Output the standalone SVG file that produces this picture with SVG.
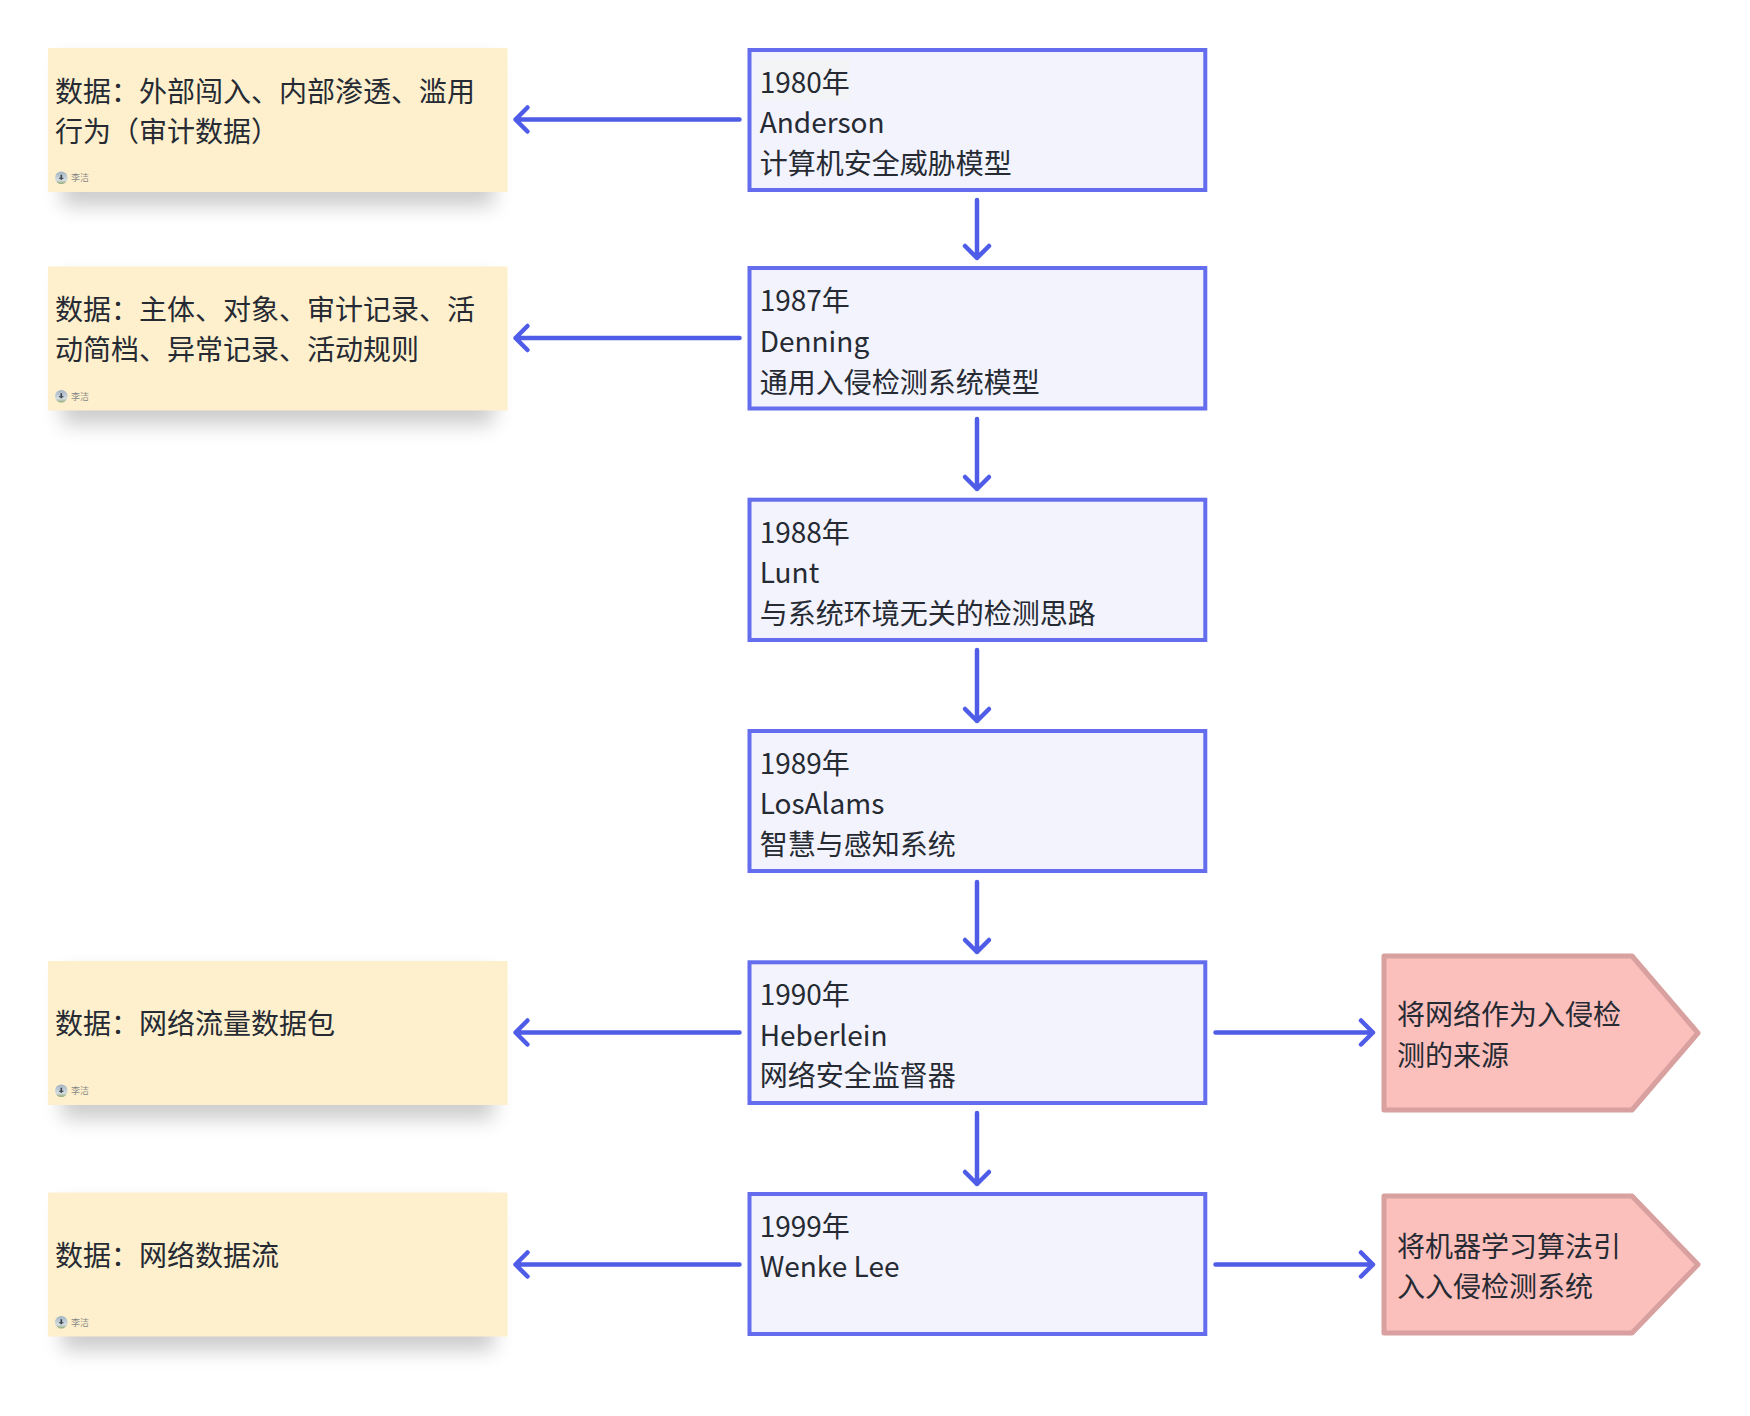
<svg xmlns="http://www.w3.org/2000/svg" width="1750" height="1416" viewBox="0 0 1750 1416">
<style>
text{font-family:"Noto Sans CJK SC","Noto Sans",sans-serif;font-size:28px;fill:#262a33}
.box{fill:#f2f3fc;stroke:#646ded;stroke-width:4}
.note{fill:#fef0cd}
.shade{fill:#000;opacity:.2;filter:url(#soft)}
.tag{fill:#fbbfbc;stroke:#d8a09e;stroke-width:5;stroke-linejoin:round}
.edge{fill:none;stroke:#4f5ce8;stroke-width:4.500;stroke-linecap:round;stroke-linejoin:round}
.who{font-size:9px;fill:#8a8a86}
</style>
<defs>
<filter id="soft" x="-15%" y="-50%" width="130%" height="200%"><feGaussianBlur stdDeviation="10"/></filter>
<linearGradient id="sky" x1="0" y1="0" x2="0" y2="1"><stop offset="0" stop-color="#9fb2c2"/><stop offset=".7" stop-color="#d5dde0"/><stop offset="1" stop-color="#8fa878"/></linearGradient>
<g id="avatar"><circle cx="61.300" cy="0" r="6.300" fill="url(#sky)"/><path d="M60.500-3h1.600v5h-1.600zM59 0h4.500v1H59z" fill="#39424c"/></g>
<g id="note-card"><rect class="shade" x="62" y="60" width="432" height="146"/><rect class="note" x="48" y="48" width="459.500" height="144"/></g>
</defs>

<g id="connectors" class="edge">
<path d="M739.500 119.500H515.500M527.500 107.500l-12 12 12 12"/>
<path d="M739.500 338H515.500M527.500 326l-12 12 12 12"/>
<path d="M739.500 1032.500H515.500M527.500 1020.500l-12 12 12 12"/>
<path d="M739.500 1264.500H515.500M527.500 1252.500l-12 12 12 12"/>
<path d="M977 200V258M965 246l12 12 12-12"/>
<path d="M977 419V489M965 477l12 12 12-12"/>
<path d="M977 650V721M965 709l12 12 12-12"/>
<path d="M977 882V952M965 940l12 12 12-12"/>
<path d="M977 1113V1184M965 1172l12 12 12-12"/>
<path d="M1215.500 1032.500H1373M1361 1020.500l12 12-12 12"/>
<path d="M1215.500 1264.500H1373M1361 1252.500l12 12-12 12"/>
</g>

<g id="note-1980"><use href="#note-card"/><text x="55" y="102">数据：外部闯入、内部渗透、滥用</text><text x="55" y="142">行为（审计数据）</text><use href="#avatar" y="177.700"/><text class="who" x="71" y="181">李洁</text></g>
<g id="note-1987"><use href="#note-card" y="218.500"/><text x="55" y="320">数据：主体、对象、审计记录、活</text><text x="55" y="360">动简档、异常记录、活动规则</text><use href="#avatar" y="396.200"/><text class="who" x="71" y="399.500">李洁</text></g>
<g id="note-1990"><use href="#note-card" y="913"/><text x="55" y="1034">数据：网络流量数据包</text><use href="#avatar" y="1090.700"/><text class="who" x="71" y="1094">李洁</text></g>
<g id="note-1999"><use href="#note-card" y="1144.500"/><text x="55" y="1266">数据：网络数据流</text><use href="#avatar" y="1322.200"/><text class="who" x="71" y="1325.500">李洁</text></g>

<g id="node-1980"><rect class="box" x="749.500" y="50" width="455.800" height="140"/><rect x="759.300" y="59.300" width="90.700" height="41.400" fill="#f3f4f6"/><text x="759.700" y="93">1980年</text><text x="759.700" y="133">Anderson</text><text x="759.700" y="174">计算机安全威胁模型</text></g>
<g id="node-1987"><rect class="box" x="749.500" y="268" width="455.800" height="140.500"/><text x="759.700" y="311">1987年</text><text x="759.700" y="351.500">Denning</text><text x="759.700" y="392.500">通用入侵检测系统模型</text></g>
<g id="node-1988"><rect class="box" x="749.500" y="499.700" width="455.800" height="140.300"/><text x="759.700" y="543">1988年</text><text x="759.700" y="583">Lunt</text><text x="759.700" y="624">与系统环境无关的检测思路</text></g>
<g id="node-1989"><rect class="box" x="749.500" y="731" width="455.800" height="140"/><text x="759.700" y="774">1989年</text><text x="759.700" y="814">LosAlams</text><text x="759.700" y="855">智慧与感知系统</text></g>
<g id="node-1990"><rect class="box" x="749.500" y="962.300" width="455.800" height="140.700"/><text x="759.700" y="1005">1990年</text><text x="759.700" y="1045.500">Heberlein</text><text x="759.700" y="1086">网络安全监督器</text></g>
<g id="node-1999"><rect class="box" x="749.500" y="1194" width="455.800" height="140"/><text x="759.700" y="1237">1999年</text><text x="759.700" y="1277">Wenke Lee</text></g>

<g id="tag-1990"><path class="tag" d="M1384 956H1632L1698 1033L1632 1110H1384Z"/><text x="1397" y="1025">将网络作为入侵检</text><text x="1397" y="1065.500">测的来源</text></g>
<g id="tag-1999"><path class="tag" d="M1384 1196H1632L1698 1264.500L1632 1333H1384Z"/><text x="1397" y="1257">将机器学习算法引</text><text x="1397" y="1297">入入侵检测系统</text></g>
</svg>
